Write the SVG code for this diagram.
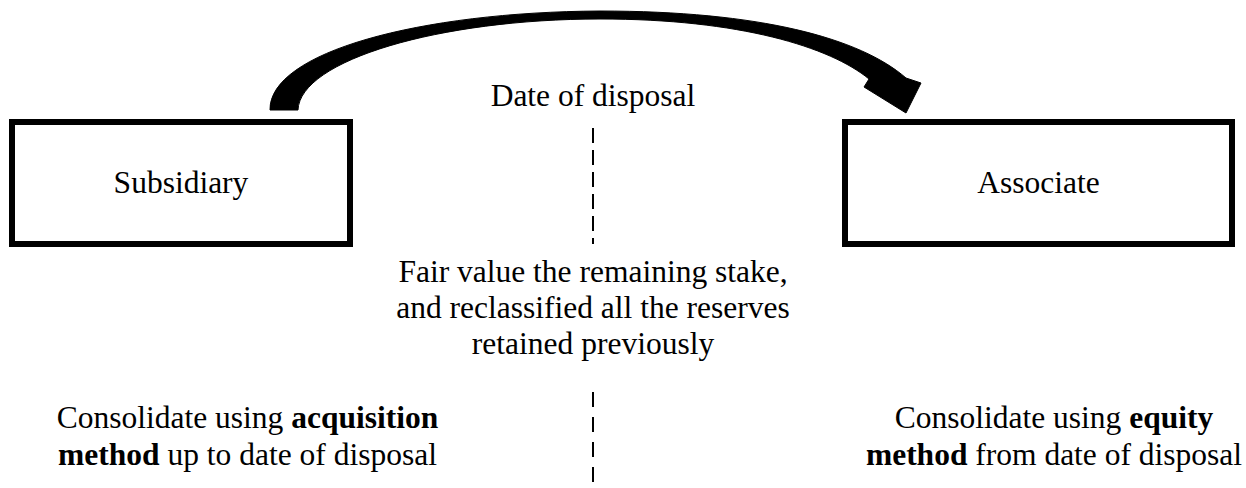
<svg xmlns="http://www.w3.org/2000/svg" width="1246" height="488" viewBox="0 0 1246 488">
<style>
.box{fill:#fff;stroke:#000;stroke-width:6}
.t{font-family:"Liberation Serif","Times New Roman",serif;font-size:31.5px;fill:#000;text-anchor:middle}
.b{font-weight:bold}
.dash{stroke:#000;stroke-width:2;fill:none}
</style>
<rect width="1246" height="488" fill="#fff"/>
<g id="connectors">
<path id="curved-arrow" d="M 270,110 C 269,52 420,12 600,11 C 760,11 860,38 906,78 L 921,83 L 906,113 L 864,87 L 869,79 C 830,47 740,19 600,19 C 440,19 300,60 298,110 Z" fill="#000" stroke="#000" stroke-width="1" stroke-linejoin="round"/>
<line class="dash" x1="593" y1="128" x2="593" y2="244" stroke-dasharray="15 7"/>
<line class="dash" x1="593" y1="392" x2="593" y2="488" stroke-dasharray="15 10"/>
</g>
<g id="node-subsidiary">
<rect class="box" x="12" y="122" width="338" height="122"/>
<text class="t" x="181" y="193">Subsidiary</text>
</g>
<g id="node-associate">
<rect class="box" x="845" y="122" width="387" height="122"/>
<text class="t" x="1038.5" y="193">Associate</text>
</g>
<g id="label-date">
<text class="t" x="593" y="106">Date of disposal</text>
</g>
<g id="label-fairvalue">
<text class="t" x="593" y="282">Fair value the remaining stake,</text>
<text class="t" x="593" y="318">and reclassified all the reserves</text>
<text class="t" x="593" y="354">retained previously</text>
</g>
<g id="label-left">
<text class="t" x="247.5" y="428">Consolidate using <tspan class="b">acquisition</tspan></text>
<text class="t" x="247.5" y="465"><tspan class="b">method</tspan> up to date of disposal</text>
</g>
<g id="label-right">
<text class="t" x="1054" y="428">Consolidate using <tspan class="b">equity</tspan></text>
<text class="t" x="1054" y="465"><tspan class="b">method</tspan> from date of disposal</text>
</g>
</svg>
